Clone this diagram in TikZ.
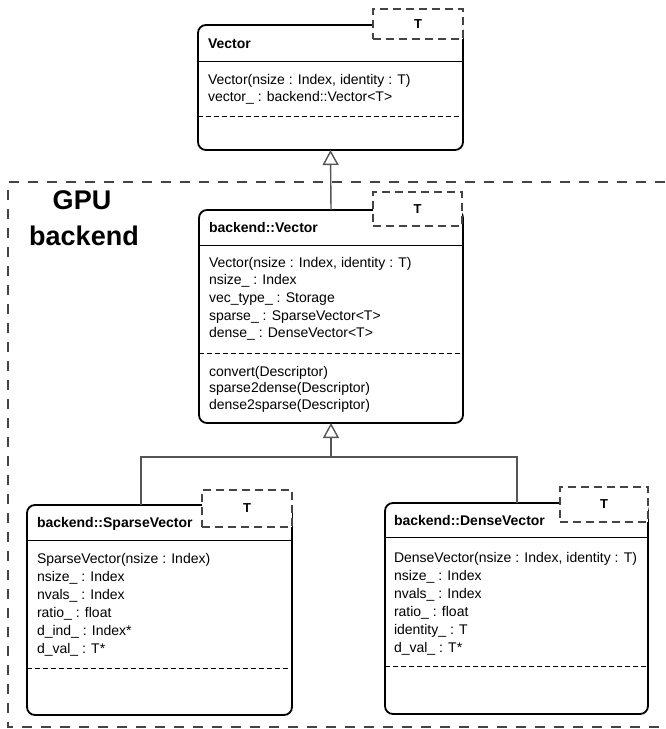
\documentclass[tikz,border=0pt]{standalone}
\usepackage{fontspec}
\setmainfont{Liberation Sans}
\usetikzlibrary{arrows.meta}
\definecolor{frameg}{HTML}{444444}
\definecolor{conng}{HTML}{555555}
\begin{document}
\begin{tikzpicture}[x=1pt,y=-1pt,
  umlbox/.style={draw=black, line width=1.8pt, rounded corners=8pt, fill=white, inner sep=0pt, outer sep=0pt, anchor=north west},
  tbox/.style={draw=frameg, line width=1.8pt, dash pattern=on 8pt off 5pt, fill=white, inner sep=0pt, outer sep=0pt, anchor=north west, font=\bfseries\fontsize{13}{15}\selectfont},
  sepline/.style={draw=black, line width=0.9pt},
  dsepline/.style={draw=black, line width=0.9pt, dash pattern=on 5pt off 3pt},
  txt/.style={inner sep=0pt, outer sep=0pt, anchor=base west, font=\fontsize{14}{17}\selectfont},
  ttl/.style={inner sep=0pt, outer sep=0pt, anchor=base west, font=\bfseries\fontsize{14}{17}\selectfont},
  bigttl/.style={inner sep=0pt, outer sep=0pt, anchor=base, font=\bfseries\fontsize{27}{32}\selectfont},
  conn/.style={draw=conng, line width=1.4pt},
  gen/.style={conn, -{Triangle[open, length=15pt, width=16pt, fill=white]}},
  gframe/.style={draw=frameg, line width=1.8pt, dash pattern=on 10pt off 9pt}
]
\useasboundingbox (0,0) rectangle (665,729);
\fill[white] (0,0) rectangle (665,729);

% GPU backend frame
\draw[gframe] (665,182) -- (8,182) -- (8,727) -- (665,727);
\node[bigttl] (gpu1) at (82,209) {GPU};
\node[bigttl] (gpu2) at (84,245) {backend};

% ---------- Vector ----------
\node[umlbox, minimum width=265pt, minimum height=125pt] (vec) at (198,25) {};
\draw[sepline] (198,61) -- (463,61);
\draw[dsepline] (198,116) -- (463,116);
\node[tbox, minimum width=90pt, minimum height=30pt] (vecT) at (373,9) {T};
\node[ttl] (vect) at (208,48) {Vector};
\foreach \t [count=\i] in {{Vector(nsize : Index, identity : T)},{vector\_ : backend::Vector<T>}}
  \node[txt] (veca\i) at (208,{84+17*(\i-1)}) {\t};

% ---------- backend::Vector ----------
\node[umlbox, minimum width=264pt, minimum height=213pt] (bv) at (199,210) {};
\draw[sepline] (199,245) -- (463,245);
\draw[dsepline] (199,353) -- (463,353);
\node[tbox, minimum width=89pt, minimum height=34pt] (bvT) at (373,192) {T};
\node[ttl] (bvt) at (209,232) {backend::Vector};
\foreach \t [count=\i] in {{Vector(nsize : Index, identity : T)},{nsize\_ : Index},{vec\_type\_ : Storage},{sparse\_ : SparseVector<T>},{dense\_ : DenseVector<T>}}
  \node[txt] (bva\i) at (209,{267+17.7*(\i-1)}) {\t};
\foreach \t [count=\i] in {{convert(Descriptor)},{sparse2dense(Descriptor)},{dense2sparse(Descriptor)}}
  \node[txt] (bvm\i) at (209,{376+16.5*(\i-1)}) {\t};

% ---------- backend::SparseVector ----------
\node[umlbox, minimum width=265pt, minimum height=210pt] (sv) at (27,505) {};
\draw[sepline] (27,540) -- (292,540);
\draw[dsepline] (27,668) -- (292,668);
\node[tbox, minimum width=90pt, minimum height=37pt] (svT) at (202,490) {T};
\node[ttl] (svt) at (37,527) {backend::SparseVector};
\foreach \t [count=\i] in {{SparseVector(nsize : Index)},{nsize\_ : Index},{nvals\_ : Index},{ratio\_ : float},{d\_ind\_ : Index*},{d\_val\_ : T*}}
  \node[txt] (sva\i) at (37,{563+18*(\i-1)}) {\t};

% ---------- backend::DenseVector ----------
\node[umlbox, minimum width=263pt, minimum height=211pt] (dv) at (385,503) {};
\draw[sepline] (385,537) -- (648,537);
\draw[dsepline] (385,666) -- (648,666);
\node[tbox, minimum width=88pt, minimum height=35pt] (dvT) at (560,487) {T};
\node[ttl] (dvt) at (394,525) {backend::DenseVector};
\foreach \t [count=\i] in {{DenseVector(nsize : Index, identity : T)},{nsize\_ : Index},{nvals\_ : Index},{ratio\_ : float},{identity\_ : T},{d\_val\_ : T*}}
  \node[txt] (dva\i) at (394,{562+18*(\i-1)}) {\t};

% ---------- connectors ----------
\coordinate (jc) at (331,457);
\draw[gen] (bv.north) -- (vec.south);
\draw[conn] ([xshift=-18.5pt]sv.north) |- (jc) -| ([xshift=0.5pt]dv.north);
\draw[gen] (jc) -- (bv.south);
\end{tikzpicture}
\end{document}
